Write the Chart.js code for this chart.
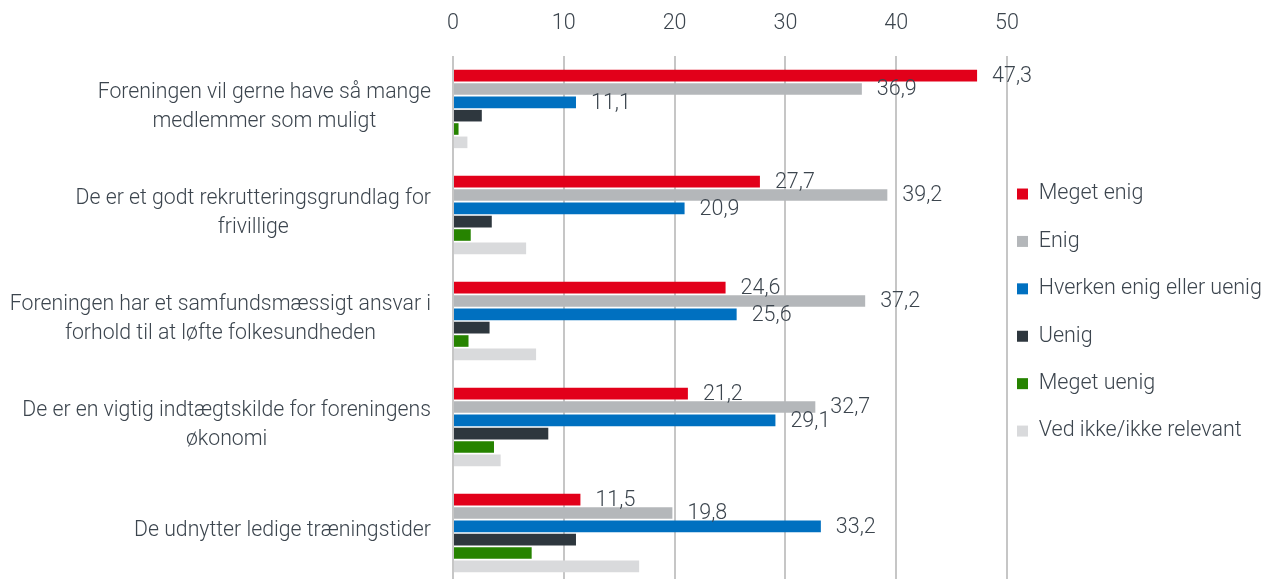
<!DOCTYPE html>
<html lang="da">
<head>
<meta charset="utf-8">
<title>Enighed</title>
<script src="https://cdn.jsdelivr.net/npm/chart.js@4.4.1/dist/chart.umd.min.js"></script>
<style>
  html, body { margin: 0; padding: 0; background: #fff; overflow: hidden; }
  #wrap { position: relative; width: 1263px; height: 586px; }
</style>
</head>
<body>
<div id="wrap"><canvas id="chart"></canvas></div>
<script>
/* data */
const categories = [
  ['Foreningen vil gerne have så mange', 'medlemmer som muligt'],
  ['De er et godt rekrutteringsgrundlag for', 'frivillige'],
  ['Foreningen har et samfundsmæssigt ansvar i', 'forhold til at løfte folkesundheden'],
  ['De er en vigtig indtægtskilde for foreningens', 'økonomi'],
  ['De udnytter ledige træningstider'],
];
const seriesNames = ['Meget enig', 'Enig', 'Hverken enig eller uenig', 'Uenig', 'Meget uenig', 'Ved ikke/ikke relevant'];
const megetEnig  = [47.3, 27.7, 24.6, 21.2, 11.5];
const enig       = [36.9, 39.2, 37.2, 32.7, 19.8];
const hverken    = [11.1, 20.9, 25.6, 29.1, 33.2];
const uenig      = [2.6, 3.5, 3.3, 8.6, 11.1];
const megetUenig = [0.5, 1.6, 1.4, 3.7, 7.1];
const vedIkke    = [1.3, 6.6, 7.5, 4.3, 16.8];
const xTicks     = [0, 10, 20, 30, 40, 50];

const seriesData   = [megetEnig, enig, hverken, uenig, megetUenig, vedIkke];
const seriesColors = ['#e2001a', '#b4b7ba', '#0070c0', '#2e373e', '#268300', '#d9dadc'];
const labelled     = 3;   // only the first three series carry value labels

const FONT = 'Roboto';
const SIZE = 21.5;
const CAT_SIZE = 21.25;
const TEXT = '#3c454e';
const fmt  = v => v.toFixed(1).replace('.', ',');

// category labels: right-aligned block, lines centred inside it
const catLabels = {
  id: 'catLabels',
  afterDraw(chart) {
    const { ctx, scales: { y } } = chart;
    ctx.save();
    ctx.font = `300 ${CAT_SIZE}px ${FONT}`;
    ctx.fillStyle = TEXT;
    ctx.textAlign = 'center';
    ctx.textBaseline = 'middle';
    chart.data.labels.forEach((lines, i) => {
      const w  = Math.max(...lines.map(l => ctx.measureText(l).width));
      const cx = y.right - 22 - w / 2;
      const cy = y.getPixelForTick(i) - 2;
      lines.forEach((l, j) => ctx.fillText(l, cx, cy + (j - (lines.length - 1) / 2) * 28.5));
    });
    ctx.restore();
  },
};

const valueLabels = {
  id: 'valueLabels',
  afterDatasetsDraw(chart) {
    const { ctx } = chart;
    ctx.save();
    ctx.font = `300 ${SIZE}px ${FONT}`;
    ctx.fillStyle = TEXT;
    ctx.textAlign = 'left';
    ctx.textBaseline = 'middle';
    for (let d = 0; d < labelled; d++) {
      chart.getDatasetMeta(d).data.forEach((bar, i) => {
        ctx.fillText(fmt(chart.data.datasets[d].data[i]), bar.x + 15, bar.y + 1);
      });
    }
    ctx.restore();
  },
};

new Chart(document.getElementById('chart'), {
  type: 'bar',
  data: {
    labels: categories,
    datasets: seriesNames.map((name, k) => ({
      label: name,
      data: seriesData[k],
      backgroundColor: seriesColors[k],
      borderWidth: 0,
      categoryPercentage: 0.755,
      barPercentage: 0.87,
    })),
  },
  options: {
    indexAxis: 'y',
    responsive: true, maintainAspectRatio: false, animation: false,
    layout: { padding: { top: 12, right: 0, bottom: 0, left: 0 } },
    plugins: {
      tooltip: { enabled: false },
      legend: {
        position: 'right',
        maxWidth: 256,
        title: { display: true, text: '', padding: { top: 0, bottom: 31 }, font: { size: 10 } },
        labels: {
          boxWidth: 11, boxHeight: 11, padding: 10, color: TEXT,
          font: { family: FONT, size: SIZE, weight: 300, lineHeight: 1.74 },
          generateLabels: c => Chart.defaults.plugins.legend.labels.generateLabels(c).map(l => ({ ...l, text: [l.text] })),
        },
      },
    },
    scales: {
      x: {
        position: 'top', min: 0, max: 50,
        afterBuildTicks: s => { s.ticks = xTicks.map(v => ({ value: v })); },
        afterFit: s => { s.height = 44; },
        grid: { color: '#c6c6c6', lineWidth: 2, drawTicks: false },
        border: { display: false },
        ticks: { color: TEXT, padding: 19, font: { family: FONT, size: SIZE, weight: 300 } },
      },
      y: {
        grid: { display: false },
        border: { display: false },
        ticks: { display: false },
        afterFit: s => { s.width = 453; },
      },
    },
  },
  plugins: [catLabels, valueLabels],
});
</script>
</body>
</html>
